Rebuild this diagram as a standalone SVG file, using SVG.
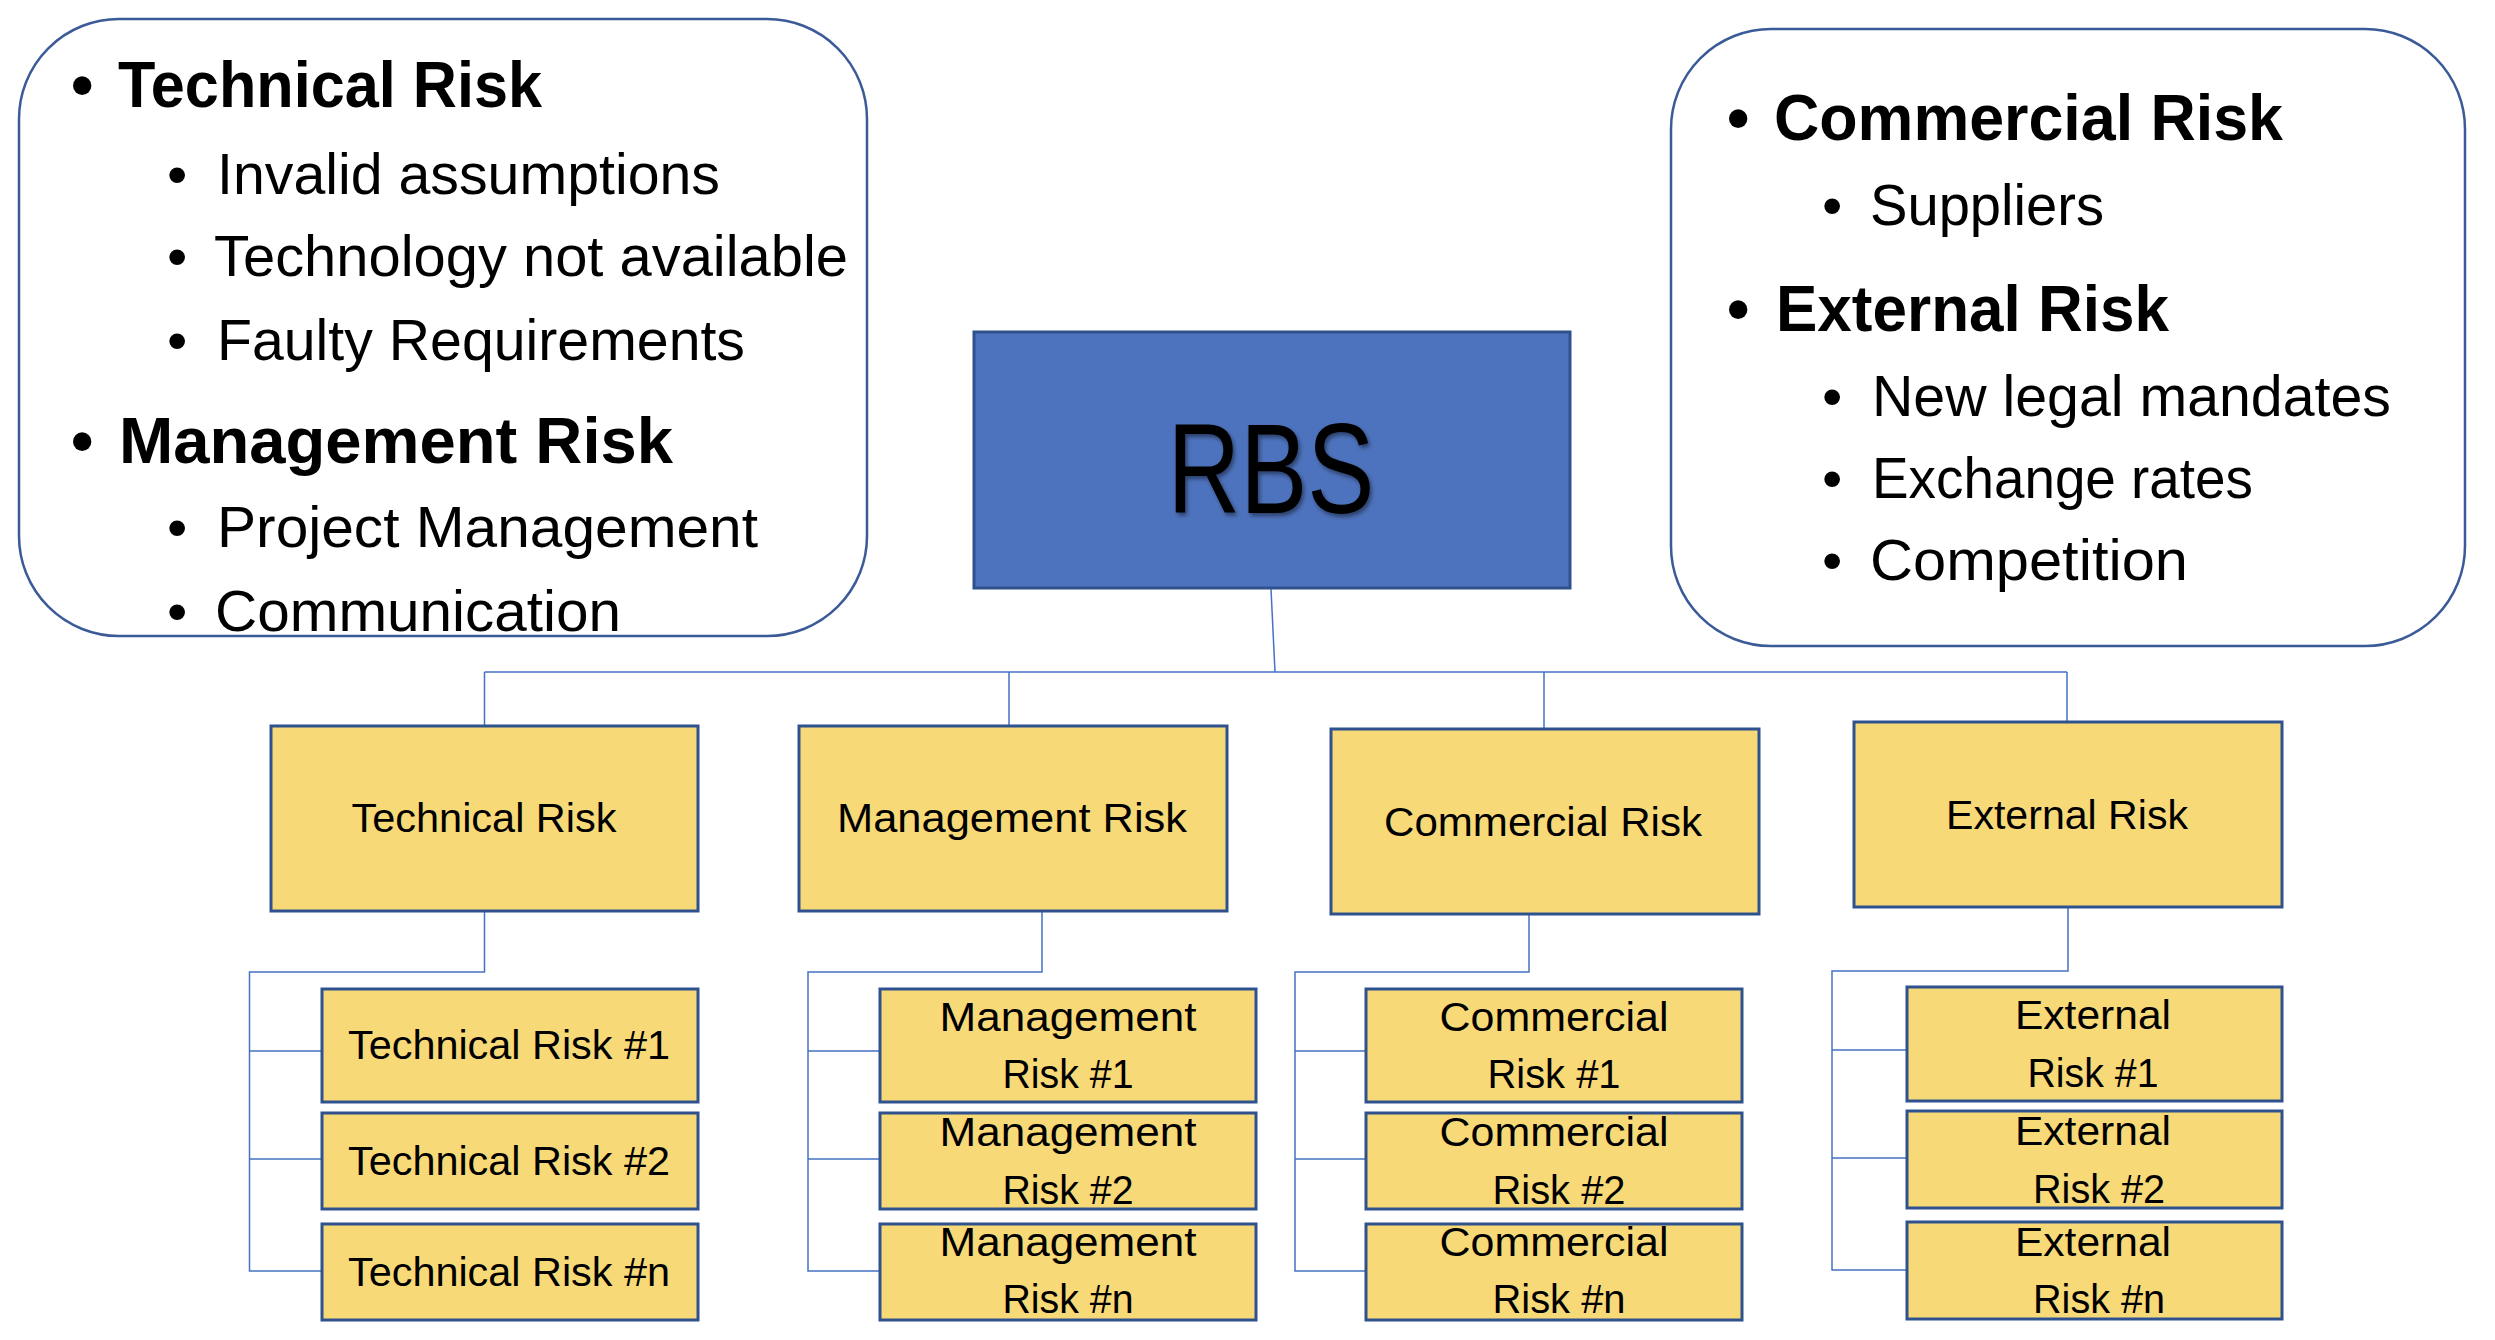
<svg xmlns="http://www.w3.org/2000/svg" width="2495" height="1340" viewBox="0 0 2495 1340">
<defs>
<style>
text{font-family:"Liberation Sans",Arial,sans-serif;fill:#000}
.panel{fill:#fff;stroke:#3A5A98;stroke-width:2.5}
.h{font-size:64px;font-weight:bold}
.s{font-size:58px}
.box{fill:#F8D978;stroke:#2F528F;stroke-width:3}
.lbl{font-size:41px;text-anchor:middle}
.conn{fill:none;stroke:#4472C4;stroke-width:1.5}
</style>
<filter id="sh" x="-10%" y="-10%" width="130%" height="130%"><feDropShadow dx="2" dy="3" stdDeviation="2" flood-color="#000" flood-opacity="0.45"/></filter>
</defs>
<rect width="2495" height="1340" fill="#fff"/>

<g id="notes-left">
<rect class="panel" x="19" y="19" width="848" height="617" rx="100"/>
<text class="h" x="71" y="107">•</text>
<text class="h" x="118" y="107" textLength="424" lengthAdjust="spacingAndGlyphs">Technical Risk</text>
<text class="s" x="167" y="194">•</text>
<text class="s" x="217" y="194" textLength="503" lengthAdjust="spacingAndGlyphs">Invalid assumptions</text>
<text class="s" x="167" y="276">•</text>
<text class="s" x="214" y="276" textLength="634" lengthAdjust="spacingAndGlyphs">Technology not available</text>
<text class="s" x="167" y="360">•</text>
<text class="s" x="217" y="360" textLength="528" lengthAdjust="spacingAndGlyphs">Faulty Requirements</text>
<text class="h" x="71" y="463">•</text>
<text class="h" x="119" y="463" textLength="554" lengthAdjust="spacingAndGlyphs">Management Risk</text>
<text class="s" x="167" y="547">•</text>
<text class="s" x="217" y="547" textLength="541" lengthAdjust="spacingAndGlyphs">Project Management</text>
<text class="s" x="167" y="631">•</text>
<text class="s" x="215" y="631" textLength="406" lengthAdjust="spacingAndGlyphs">Communication</text>
</g>

<g id="notes-right">
<rect class="panel" x="1671" y="29" width="794" height="617" rx="100"/>
<text class="h" x="1727" y="140">•</text>
<text class="h" x="1774" y="140" textLength="509" lengthAdjust="spacingAndGlyphs">Commercial Risk</text>
<text class="s" x="1822" y="225">•</text>
<text class="s" x="1870" y="225" textLength="234" lengthAdjust="spacingAndGlyphs">Suppliers</text>
<text class="h" x="1727" y="331">•</text>
<text class="h" x="1776" y="331" textLength="393" lengthAdjust="spacingAndGlyphs">External Risk</text>
<text class="s" x="1822" y="416">•</text>
<text class="s" x="1872" y="416" textLength="519" lengthAdjust="spacingAndGlyphs">New legal mandates</text>
<text class="s" x="1822" y="498">•</text>
<text class="s" x="1872" y="498" textLength="381" lengthAdjust="spacingAndGlyphs">Exchange rates</text>
<text class="s" x="1822" y="580">•</text>
<text class="s" x="1870" y="580" textLength="318" lengthAdjust="spacingAndGlyphs">Competition</text>
</g>

<g id="connectors" class="conn">
<path d="M1271 589 L1275 672"/>
<path d="M484.5 672 H2067"/>
<path d="M484.5 672 V726 M1009 672 V726 M1544 672 V729 M2067 672 V722"/>
<path d="M484.5 911 V972 H249.5 V1271 H322 M249.5 1051 H322 M249.5 1159 H322"/>
<path d="M1042 911 V972 H808 V1271 H880 M808 1051 H880 M808 1159 H880"/>
<path d="M1529 914 V972 H1295 V1271 H1366 M1295 1051 H1366 M1295 1159 H1366"/>
<path d="M2068 907 V971 H1832 V1270 H1907 M1832 1050 H1907 M1832 1158 H1907"/>
</g>

<g id="rbs">
<rect x="974" y="332" width="596" height="256" fill="#4E73BE" stroke="#2F528F" stroke-width="3"/>
<text x="1271" y="513" font-size="128" text-anchor="middle" textLength="207" lengthAdjust="spacingAndGlyphs" filter="url(#sh)">RBS</text>
</g>

<g id="technical-risk">
<rect class="box" x="271" y="726" width="427" height="185"/>
<text class="lbl" x="484" y="832" textLength="265" lengthAdjust="spacingAndGlyphs">Technical Risk</text>
</g>
<g id="management-risk">
<rect class="box" x="799" y="726" width="428" height="185"/>
<text class="lbl" x="1012" y="832" textLength="350" lengthAdjust="spacingAndGlyphs">Management Risk</text>
</g>
<g id="commercial-risk">
<rect class="box" x="1331" y="729" width="428" height="185"/>
<text class="lbl" x="1543" y="836" textLength="318" lengthAdjust="spacingAndGlyphs">Commercial Risk</text>
</g>
<g id="external-risk">
<rect class="box" x="1854" y="722" width="428" height="185"/>
<text class="lbl" x="2067" y="829" textLength="242" lengthAdjust="spacingAndGlyphs">External Risk</text>
</g>

<g id="technical-risk-1">
<rect class="box" x="322" y="989" width="376" height="113"/>
<text class="lbl" x="509" y="1059" textLength="322" lengthAdjust="spacingAndGlyphs">Technical Risk #1</text>
</g>
<g id="technical-risk-2">
<rect class="box" x="322" y="1113" width="376" height="96"/>
<text class="lbl" x="509" y="1175" textLength="322" lengthAdjust="spacingAndGlyphs">Technical Risk #2</text>
</g>
<g id="technical-risk-n">
<rect class="box" x="322" y="1224" width="376" height="96"/>
<text class="lbl" x="509" y="1286" textLength="322" lengthAdjust="spacingAndGlyphs">Technical Risk #n</text>
</g>

<g id="management-risk-1">
<rect class="box" x="880" y="989" width="376" height="113"/>
<text class="lbl" x="1068" y="1031" textLength="257" lengthAdjust="spacingAndGlyphs">Management</text>
<text class="lbl" x="1068" y="1088" textLength="131" lengthAdjust="spacingAndGlyphs">Risk #1</text>
</g>
<g id="management-risk-2">
<rect class="box" x="880" y="1113" width="376" height="96"/>
<text class="lbl" x="1068" y="1146" textLength="257" lengthAdjust="spacingAndGlyphs">Management</text>
<text class="lbl" x="1068" y="1204" textLength="131" lengthAdjust="spacingAndGlyphs">Risk #2</text>
</g>
<g id="management-risk-n">
<rect class="box" x="880" y="1224" width="376" height="96"/>
<text class="lbl" x="1068" y="1256" textLength="257" lengthAdjust="spacingAndGlyphs">Management</text>
<text class="lbl" x="1068" y="1313" textLength="131" lengthAdjust="spacingAndGlyphs">Risk #n</text>
</g>

<g id="commercial-risk-1">
<rect class="box" x="1366" y="989" width="376" height="113"/>
<text class="lbl" x="1554" y="1031" textLength="229" lengthAdjust="spacingAndGlyphs">Commercial</text>
<text class="lbl" x="1554" y="1088" textLength="133" lengthAdjust="spacingAndGlyphs">Risk #1</text>
</g>
<g id="commercial-risk-2">
<rect class="box" x="1366" y="1113" width="376" height="96"/>
<text class="lbl" x="1554" y="1146" textLength="229" lengthAdjust="spacingAndGlyphs">Commercial</text>
<text class="lbl" x="1559" y="1204" textLength="133" lengthAdjust="spacingAndGlyphs">Risk #2</text>
</g>
<g id="commercial-risk-n">
<rect class="box" x="1366" y="1224" width="376" height="96"/>
<text class="lbl" x="1554" y="1256" textLength="229" lengthAdjust="spacingAndGlyphs">Commercial</text>
<text class="lbl" x="1559" y="1313" textLength="133" lengthAdjust="spacingAndGlyphs">Risk #n</text>
</g>

<g id="external-risk-1">
<rect class="box" x="1907" y="987" width="375" height="114"/>
<text class="lbl" x="2093" y="1029" textLength="156" lengthAdjust="spacingAndGlyphs">External</text>
<text class="lbl" x="2093" y="1087" textLength="131" lengthAdjust="spacingAndGlyphs">Risk #1</text>
</g>
<g id="external-risk-2">
<rect class="box" x="1907" y="1111" width="375" height="97"/>
<text class="lbl" x="2093" y="1145" textLength="156" lengthAdjust="spacingAndGlyphs">External</text>
<text class="lbl" x="2099" y="1203" textLength="132" lengthAdjust="spacingAndGlyphs">Risk #2</text>
</g>
<g id="external-risk-n">
<rect class="box" x="1907" y="1222" width="375" height="97"/>
<text class="lbl" x="2093" y="1256" textLength="156" lengthAdjust="spacingAndGlyphs">External</text>
<text class="lbl" x="2099" y="1313" textLength="132" lengthAdjust="spacingAndGlyphs">Risk #n</text>
</g>
</svg>
